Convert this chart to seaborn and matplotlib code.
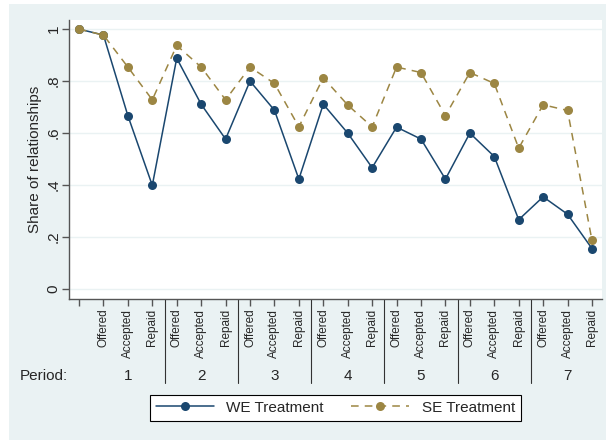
import numpy as np
import pandas as pd
import matplotlib
matplotlib.use("Agg")
import matplotlib.pyplot as plt
import matplotlib.transforms as mtransforms
import seaborn as sns

### data
stages = ["Offered", "Accepted", "Repaid"]
periods = ["1", "2", "3", "4", "5", "6", "7"]
tick_labels = [""] + stages * len(periods)

we_share = [1.0, 0.977, 0.667, 0.399, 0.888, 0.711, 0.577, 0.800, 0.688, 0.423,
            0.711, 0.600, 0.467, 0.623, 0.577, 0.423, 0.600, 0.510, 0.267,
            0.355, 0.288, 0.156]
se_share = [1.0, 0.977, 0.854, 0.728, 0.937, 0.854, 0.728, 0.854, 0.791, 0.624,
            0.813, 0.708, 0.624, 0.854, 0.833, 0.667, 0.833, 0.791, 0.542,
            0.709, 0.687, 0.187]

NAVY = "#1a476f"
SAND = "#9c8643"
BG = "#eaf2f3"

x = np.arange(len(tick_labels))
df = pd.DataFrame({
    "step": np.concatenate([x, x]),
    "share": we_share + se_share,
    "Treatment": ["WE Treatment"] * len(x) + ["SE Treatment"] * len(x),
})

sns.set_style("white")
plt.rcParams["font.family"] = ["Liberation Sans", "DejaVu Sans"]

fig = plt.figure(figsize=(6.06, 4.41), dpi=100, facecolor="white")
### outer Stata-like background
fig.patches.append(plt.Rectangle((9 / 606, 1 / 441), 1 - 9 / 606, 436 / 441,
                                 transform=fig.transFigure, facecolor=BG,
                                 edgecolor="none", zorder=-10))
ax = fig.add_axes([69 / 606, (441 - 299) / 441, (602 - 69) / 606, (299 - 20) / 441])
ax.set_facecolor("white")

sns.lineplot(data=df, x="step", y="share", hue="Treatment", style="Treatment",
             palette={"WE Treatment": NAVY, "SE Treatment": SAND},
             dashes={"WE Treatment": "", "SE Treatment": (5, 4)},
             markers={"WE Treatment": "o", "SE Treatment": "o"},
             markersize=6.5, markeredgewidth=0, linewidth=1.1, ax=ax)

ax.set_xlim(-0.41, 21.41)
ax.set_ylim(-0.038, 1.035)

yt = [0, 0.2, 0.4, 0.6, 0.8, 1.0]
ax.set_yticks(yt)
ax.set_yticklabels(["0", ".2", ".4", ".6", ".8", "1"], rotation=90, va="center", fontsize=11)
ax.set_xticks(x)
ax.set_xticklabels(tick_labels, rotation=90, fontsize=8.5)
ax.tick_params(axis="both", direction="out", length=5, width=1, color="#555555",
               left=True, bottom=True)
ax.tick_params(axis="y", pad=1)
ax.tick_params(axis="x", pad=2)
ax.set_xlabel("")
ax.set_ylabel("Share of relationships", fontsize=11, labelpad=3)

ax.grid(axis="y", color=BG, linewidth=1)
ax.grid(axis="x", visible=False)
for s in ["top", "right"]:
    ax.spines[s].set_visible(False)
for s in ["left", "bottom"]:
    ax.spines[s].set_color("#555555")
    ax.spines[s].set_linewidth(1)

### period separators and labels below the axis
trans = mtransforms.blended_transform_factory(ax.transData, ax.transAxes)
for i in range(1, len(periods)):
    xs = 3 * i + 0.5
    ax.plot([xs, xs], [0, -0.30], color="#333333", linewidth=0.8,
            transform=trans, clip_on=False)
for i, p in enumerate(periods):
    ax.text(3 * i + 2, -0.275, p, transform=trans, ha="center", va="center", fontsize=11)
fig.text(68 / 606, 1 - 376 / 441, "Period:", ha="right", va="center", fontsize=11)

handles, labels = ax.get_legend_handles_labels()
ax.legend(handles, labels, loc="center", bbox_to_anchor=(0.5, -0.39), ncol=2,
          frameon=True, fancybox=False, edgecolor="black", facecolor="white",
          framealpha=1, fontsize=11, handlelength=3.8, columnspacing=1.8,
          borderpad=0.4)
ax.get_legend().get_frame().set_linewidth(0.8)

fig.savefig("out.png", dpi=100, facecolor=fig.get_facecolor())
